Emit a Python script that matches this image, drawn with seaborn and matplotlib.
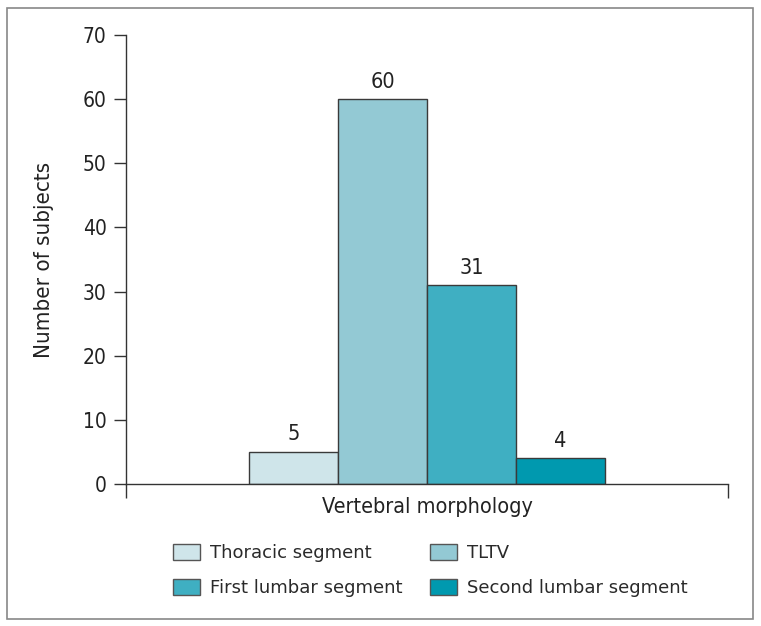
import matplotlib
matplotlib.use("Agg")
import matplotlib.pyplot as plt
import seaborn as sns
import pandas as pd
from matplotlib.patches import Rectangle

categories = ["Thoracic segment", "TLTV", "First lumbar segment", "Second lumbar segment"]
counts = [5, 60, 31, 4]
group = ["Vertebral morphology"] * 4
colors = ["#CFE5EA", "#93C9D4", "#3FAFC2", "#0099AF"]
yticks = [0, 10, 20, 30, 40, 50, 60, 70]

df = pd.DataFrame({"group": group, "category": categories, "count": counts})

sns.set_style("white")
plt.rcParams["font.family"] = ["DejaVu Sans"]

fig = plt.figure(figsize=(7.61, 6.26), dpi=100)
ax = fig.add_axes([126/761, 1-484/626, (728-126)/761, (484-35)/626])

sns.barplot(data=df, x="group", y="count", hue="category", hue_order=categories,
            palette=colors, width=0.59, gap=0, edgecolor="#3a3a3a", linewidth=1.0,
            saturation=1, legend=False, ax=ax)

for c in ax.containers:
    ax.bar_label(c, padding=5.5, fontsize=15.5, color="#222222", fontstretch="condensed")

ax.set_xlim(-0.5, 0.5)
ax.set_ylim(0, 70)
ax.set_yticks(yticks)
ax.set_yticklabels([str(v) for v in yticks], fontsize=15, color="#222222", fontstretch="condensed")
ax.set_xticks([-0.5, 0.5])
ax.set_xticklabels(["", ""])
ax.tick_params(axis="y", direction="out", length=9, width=1, color="#333333", left=True, pad=5)
ax.tick_params(axis="x", direction="out", length=10, width=1, color="#333333", bottom=True)
for s in ["top", "right"]:
    ax.spines[s].set_visible(False)
for s in ["left", "bottom"]:
    ax.spines[s].set_color("#333333")
    ax.spines[s].set_linewidth(1)
ax.set_xlabel("Vertebral morphology", fontsize=15.5, color="#222222", labelpad=-4, fontstretch="condensed")
ax.set_ylabel("Number of subjects", fontsize=16, color="#222222", labelpad=20.5, fontstretch="condensed")

handles = [Rectangle((0, 0), 1, 1, facecolor=col, edgecolor="#555555", linewidth=1) for col in colors]
order = [0, 2, 1, 3]
fig.legend([handles[i] for i in order], [categories[i] for i in order],
           loc="upper left", bbox_to_anchor=(173/761, 1-544/626), ncol=2, frameon=False,
           fontsize=13, handlelength=1.5, handleheight=1.0, handletextpad=0.55,
           columnspacing=1.5, labelspacing=0.9, borderpad=0, borderaxespad=0,
           labelcolor="#2a2a2a")

fig.patches.append(Rectangle((7/761, 7/626), (753-7)/761, (618-7)/626, transform=fig.transFigure,
                             fill=False, edgecolor="#888888", linewidth=1.2))

fig.savefig("out.png", dpi=100)
